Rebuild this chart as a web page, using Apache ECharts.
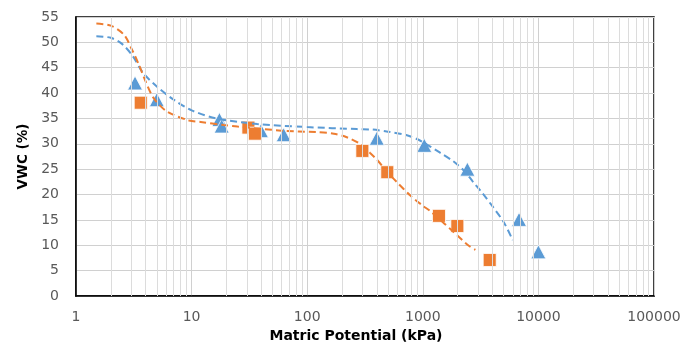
<!DOCTYPE html>
<html>
<head>
<meta charset="utf-8">
<script src="https://cdn.jsdelivr.net/npm/echarts@6/dist/echarts.min.js"></script>
<style>
html,body{margin:0;padding:0;background:#fff;}
#chart{width:683px;height:345px;}
</style>
</head>
<body>
<div id="chart"></div>
<script>
// Measured points (Matric potential kPa, VWC %)
const triX = [3.24, 5.0, 17.4, 18.2, 39.8, 62.6, 400, 1030, 2430, 6800, 10000];
const triY = [42.0, 38.7, 34.8, 33.5, 32.6, 31.8, 31.1, 29.7, 25.0, 15.1, 8.7];
const sqX = [3.63, 31, 35.3, 300, 493, 1380, 1990, 3790];
const sqY = [38.1, 33.2, 32.0, 28.6, 24.4, 15.8, 13.8, 7.1];
// Fitted curves
const blueFitX = [1.5, 2.0, 2.5, 3.1, 3.8, 5.0, 7.0, 10, 16.5, 37, 100, 270, 370, 500, 700, 900, 1150, 1400, 1850, 2300, 2700, 3300, 4000, 5000, 6000];
const blueFitY = [51.2, 50.9, 49.7, 47.3, 44.0, 41.3, 38.7, 36.6, 35.0, 33.9, 33.3, 32.9, 32.8, 32.4, 31.8, 30.9, 29.5, 28.3, 26.5, 24.6, 22.6, 20.2, 17.7, 14.6, 11.0];
const orangeFitX = [1.5, 2.0, 2.6, 3.0, 3.5, 4.0, 4.7, 6.1, 9.5, 12, 19, 25, 60, 120, 170, 220, 286, 350, 400, 500, 600, 780, 1000, 1150, 1500, 1750, 2200, 2500, 2850];
const orangeFitY = [53.7, 53.3, 51.5, 48.9, 45.6, 42.3, 39.0, 36.4, 34.6, 34.3, 33.7, 33.4, 32.6, 32.3, 32.0, 31.3, 30.0, 28.2, 26.9, 24.3, 22.4, 19.8, 17.8, 16.8, 14.5, 13.1, 11.0, 9.9, 9.1];
const xTicks = [1, 10, 100, 1000, 10000, 100000];

const zip = (a, b) => a.map((v, i) => [v, b[i]]);
const minorLines = [];
for (let d = 0; d < xTicks.length - 1; d++) {
  for (let k = 2; k <= 9; k++) minorLines.push({ xAxis: k * xTicks[d] });
}
const FONT = '"DejaVu Sans", "Liberation Sans", sans-serif';
const chart = echarts.init(document.getElementById('chart'));
chart.setOption({
  animation: false,
  grid: { left: 76, right: 29, top: 17, bottom: 49, outerBoundsMode: 'none', containLabel: false, show: true, borderColor: '#000', borderWidth: 1.5, backgroundColor: 'transparent' },
  xAxis: {
    type: 'log', logBase: 10, min: 1, max: 100000,
    name: 'Matric Potential (kPa)', nameLocation: 'middle', nameGap: 28,
    nameTextStyle: { fontFamily: FONT, fontWeight: 'bold', fontSize: 14, color: '#000', padding: [0, 18, 0, 0] },
    axisLine: { show: true, lineStyle: { color: '#000', width: 1.5 } },
    axisTick: { show: false },
    axisLabel: { fontFamily: FONT, fontSize: 14, color: '#595959', margin: 14, formatter: v => String(Math.round(v)) },
    splitLine: { show: true, lineStyle: { color: '#D0D0D0', width: 1 } }
  },
  yAxis: {
    type: 'value', min: 0, max: 55, interval: 5,
    name: 'VWC (%)', nameLocation: 'middle', nameGap: 45, nameRotate: 90,
    nameTextStyle: { fontFamily: FONT, fontWeight: 'bold', fontSize: 13.5, color: '#000' },
    axisLine: { show: true, lineStyle: { color: '#000', width: 1.5 } },
    axisTick: { show: false },
    axisLabel: { fontFamily: FONT, fontSize: 14, color: '#595959', margin: 17 },
    splitLine: { show: true, lineStyle: { color: '#D0D0D0', width: 1 } }
  },
  series: [
    {
      type: 'line', data: [[1, 0]], symbol: 'none', silent: true, z: 0,
      lineStyle: { opacity: 0 },
      markLine: {
        silent: true, symbol: ['none', 'none'], label: { show: false },
        lineStyle: { color: '#DCDCDC', type: 'solid', width: 1 },
        emphasis: { disabled: true },
        data: minorLines
      }
    },
    {
      type: 'scatter', data: zip(triX, triY), symbol: 'triangle', symbolSize: [15, 14], z: 3,
      itemStyle: { color: '#5B9BD5', borderColor: '#fff', borderWidth: 0.8, opacity: 1 }
    },
    {
      type: 'scatter', data: zip(sqX, sqY), symbol: 'rect', symbolSize: 13, z: 3,
      itemStyle: { color: '#ED7D31', borderColor: '#fff', borderWidth: 0.8, opacity: 1 }
    },
    {
      type: 'line', data: zip(blueFitX, blueFitY), symbol: 'none', smooth: 0.3, z: 4,
      lineStyle: { color: '#5B9BD5', width: 2, type: [7, 4] }
    },
    {
      type: 'line', data: zip(orangeFitX, orangeFitY), symbol: 'none', smooth: 0.3, z: 4,
      lineStyle: { color: '#ED7D31', width: 2, type: [7, 4] }
    }
  ]
});
</script>
</body>
</html>
